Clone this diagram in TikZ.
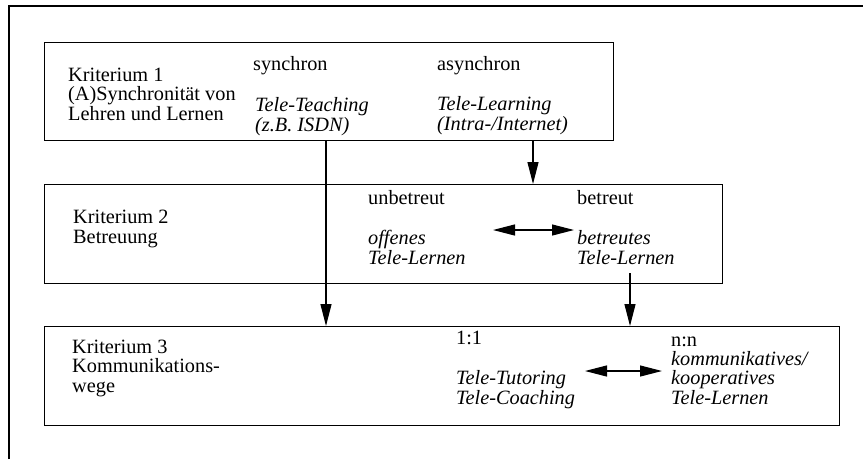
\documentclass[tikz,border=0pt]{standalone}
\usepackage{fontspec}
\setmainfont{Liberation Serif}
\usetikzlibrary{arrows.meta}
\begin{document}
\begin{tikzpicture}[x=1pt,y=-1pt,
  frame/.style={line width=1.3pt},
  crit/.style={draw, line width=1.2pt, inner sep=0pt, anchor=north west},
  % multi-line texts are placed by the baseline of their last line
  txt/.style={inner sep=0pt, anchor=base west, align=left,
    font=\fontsize{20.3}{19.5}\selectfont},
  itx/.style={txt, font=\fontsize{20.3}{19.5}\selectfont\itshape},
  link/.style={line width=1.2pt, -{Triangle[length=22pt,width=11pt]}},
  swap/.style={line width=1.2pt,
    {Triangle[length=22pt,width=11pt]}-{Triangle[length=22pt,width=11pt]}}]
\useasboundingbox (0,0) rectangle (863,459);

% page frame: left and top rule only
\draw[frame] (9,459) -- (9,6) -- (863,6);

% the three criteria boxes
\node[crit, minimum width=569pt, minimum height=98pt] (k1) at (44,42) {};
\node[crit, minimum width=678pt, minimum height=99pt] (k2) at (44,184) {};
\node[crit, minimum width=795pt, minimum height=99pt] (k3) at (44,326) {};

% criterion 1
\node[txt] (c1) at (68,120) {Kriterium 1\\(A)Synchronität von\\Lehren und Lernen};
\node[txt] (s1) at (253,70) {synchron};
\node[itx] (s2) at (255,131) {Tele-Teaching\\(z.B. ISDN)};
\node[txt] (a1) at (437,70) {asynchron};
\node[itx] (a2) at (437,130) {Tele-Learning\\(Intra-/Internet)};

% criterion 2
\node[txt] (c2) at (73,243) {Kriterium 2\\Betreuung};
\node[txt] (u1) at (368,204) {unbetreut};
\node[itx] (u2) at (368,264) {offenes\\Tele-Lernen};
\node[txt] (b1) at (577,204) {betreut};
\node[itx] (b2) at (577,264) {betreutes\\Tele-Lernen};

% criterion 3
\node[txt] (c3) at (72,392) {Kriterium 3\\Kommunikations-\\wege};
\node[txt] (o1) at (456,344) {1:1};
\node[itx] (o2) at (456,404) {Tele-Tutoring\\Tele-Coaching};
\node[txt] (n1) at (671,346) {n:n};
\node[itx] (n2) at (671,404) {kommunikatives/\\kooperatives\\Tele-Lernen};

% connector columns and free ends
\coordinate (xa) at (326,0);
\coordinate (xb) at (533,0);
\coordinate (xc) at (630,0);
\coordinate (cs) at (630,273);
\coordinate (d1) at (493,230);
\coordinate (d2) at (574,230);
\coordinate (e1) at (585,371);
\coordinate (e2) at (662,371);

\draw[link] (k1.south -| xa) -- (k3.north -| xa);
\draw[link] (k1.south -| xb) -- (k2.north -| xb);
\draw[link] (cs) -- (k3.north -| xc);
\draw[swap] (d1) -- (d2);
\draw[swap] (e1) -- (e2);
\end{tikzpicture}
\end{document}
